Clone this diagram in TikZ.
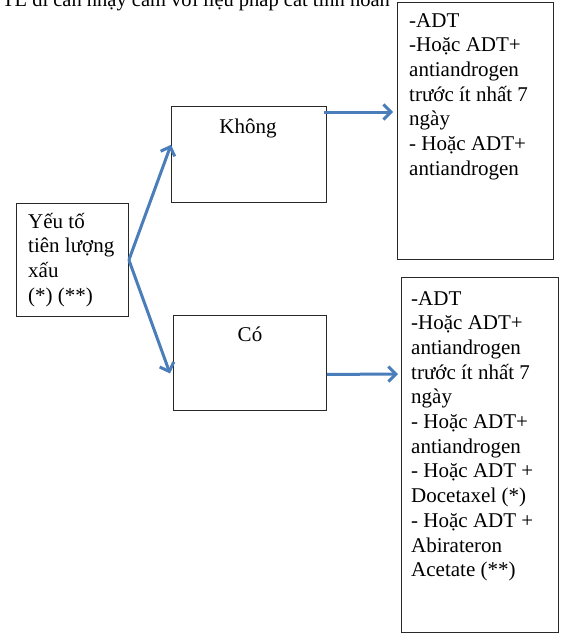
\documentclass[tikz,border=0pt]{standalone}
\usepackage{fontspec}
\setmainfont{Liberation Serif}
\usetikzlibrary{arrows.meta,calc}
\definecolor{arrowblue}{RGB}{74,126,187}
\definecolor{boxline}{RGB}{40,40,40}
\begin{document}
\begin{tikzpicture}[x=1pt,y=-1pt,
  box/.style={draw=boxline, line width=0.9pt, inner sep=0pt, anchor=north west},
  txt/.style={anchor=base west, inner sep=0pt, font=\fontsize{21}{24.7}\selectfont},
  ctxt/.style={anchor=base, inner sep=0pt, font=\fontsize{21}{24.7}\selectfont},
  conn/.style={draw=arrowblue, line width=3pt, -{Straight Barb[length=7.5pt,width=15pt]}}]
\useasboundingbox (0,0) rectangle (563,640);
\clip (0,0) rectangle (563,640);
% cut-off heading
\node[anchor=base east, inner sep=0pt, font=\fontsize{20.5}{24.7}\selectfont] (head) at (390,6.5) {TTL di căn nhạy cảm với liệu pháp cắt tinh hoàn};
% boxes
\node[box, minimum width=112pt, minimum height=113pt] (yeuto) at (16,203) {};
\node[box, minimum width=155pt, minimum height=96pt] (khong) at (171,106) {};
\node[box, minimum width=153pt, minimum height=95pt] (co) at (173,315) {};
\node[box, minimum width=156pt, minimum height=257pt] (rtop) at (397,2) {};
\node[box, minimum width=157pt, minimum height=355pt] (rbot) at (401,277) {};
% texts
\node[txt] (tyeuto) at (28,228) {\parbox[t]{100pt}{\raggedright Yếu tố\\tiên lượng\\xấu\\(*) (**)}};
\node[ctxt] (tkhong) at (248,133) {Không};
\node[ctxt] (tco) at (250,341) {Có};
\node[txt] (trtop) at (409,27) {\parbox[t]{140pt}{\raggedright -ADT\\-Hoặc ADT+\\antiandrogen\\trước ít nhất 7\\ngày\\- Hoặc ADT+\\antiandrogen}};
\node[txt] (trbot) at (411,305) {\parbox[t]{140pt}{\raggedright -ADT\\-Hoặc ADT+\\antiandrogen\\trước ít nhất 7\\ngày\\- Hoặc ADT+\\antiandrogen\\- Hoặc ADT +\\Docetaxel (*)\\- Hoặc ADT +\\Abirateron\\Acetate (**)}};
% connectors
\draw[conn] (yeuto.east) -- ($(khong.north west)!0.4!(khong.south west)$);
\draw[conn] (yeuto.east) -- ($(co.north west)!0.61!(co.south west)+(-3,0)$);
\draw[conn] ($(khong.north east)+(-3,6)$) -- ($(rtop.north west)+(-4,110)$);
\draw[conn] ($(co.north east)!0.62!(co.south east)$) -- ($(rbot.north west)+(-3,97)$);
\end{tikzpicture}
\end{document}
